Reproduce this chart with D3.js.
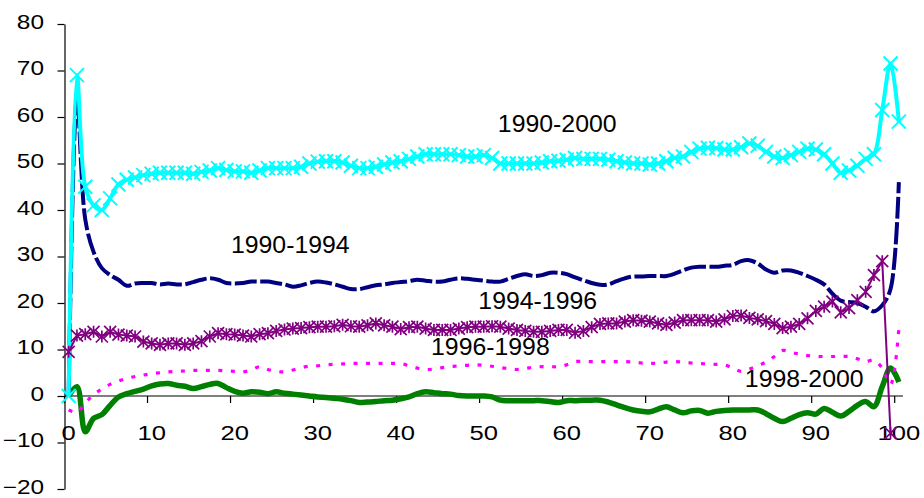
<!DOCTYPE html>
<html><head><meta charset="utf-8">
<script src="https://cdn.jsdelivr.net/npm/d3@7"></script>
<style>
body{margin:0;background:#fff}
svg{display:block}
text{font-family:"Liberation Sans",Arial,sans-serif;fill:#000}
</style>
</head><body>
<svg id="chart" width="924" height="498"></svg>
<script>
// ---------------- data ----------------
const categories = d3.range(0, 101);
const xTickLabels = ["0","10","20","30","40","50","60","70","80","90","100"];
const yTickValues = [-20,-10,0,10,20,30,40,50,60,70,80];
const seriesNames = ["1990-2000","1990-1994","1994-1996","1996-1998","1998-2000"];

const s1990_2000 = [
 0,69,45,41,40,42.5,45.5,46.5,47,47.5,
 47.8,48,48,48,48,47.8,48.2,48.5,49,48.6,
 48.3,48.3,48,48.5,49,49,49,49,49.3,50,
 50.4,50.5,50.5,50.2,49.5,49,49,49.3,49.8,50.2,
 50.5,51,51.5,52,52,52,52,51.8,51.5,51.5,
 51.8,51.2,50,50,50,50,50,50.2,50.5,50.6,
 50.8,51.2,51,51,51,50.8,50.5,50.2,50,50,
 49.8,50,50.5,51.2,51.5,52.5,53.2,53.4,53.3,53,
 53,53.5,54.3,53.8,52.5,51.5,51.2,51.8,52.5,53.2,
 53,52,50,48,48.5,49.5,51,52,61.5,71.5,59];
const s1990_1994 = [
 0,64,38,31,27.5,26,25,23.7,24.2,24.3,
 24.3,24,24.2,24,24,24.5,25,25.3,25,24.3,
 24.2,24.3,24.6,24.6,24.6,24.3,24,23.5,23.8,24.3,
 24.6,24.4,24,23.5,23,23,23.4,23.8,24,24.3,
 24.5,24.7,25,24.8,24.6,24.6,25,25.3,25.2,25,
 24.8,24.6,24.6,25.2,25.8,26.2,25.8,26,26.5,26.5,
 26.2,25.5,24.9,24.3,23.9,24,24.7,25.3,25.7,25.7,
 25.8,25.8,25.8,26.3,27,27.6,27.8,27.8,27.8,28,
 28.2,29,29.2,28.5,27.2,26.5,27,27,26.5,25.8,
 25,24,22,20.5,20.2,20,19.2,18.2,19.5,23,46];
const s1994_1996 = [
 9.5,13,13.3,13.8,12.8,13.8,13.2,13,12.8,11.7,
 11.3,11,11.3,11.3,11,11.3,11.8,12.8,13.5,13.3,
 13.2,13,12.8,13.3,13.5,14,14.3,14.5,14.6,14.8,
 14.9,14.9,15,15.3,15,14.9,15.2,15.6,15.2,14.9,
 14.4,14.8,14.9,14.5,14.2,14.2,14.2,14.5,14.8,14.9,
 14.9,15,14.9,14.5,14.2,14,13.8,13.8,14,14.2,
 14.2,13.6,14,14.8,15.5,15.6,15.6,16,16.3,16.2,
 16,15.6,15.3,15.8,16.3,16.3,16.3,16.3,16,16.5,
 17.2,17.3,16.8,16.5,16.1,15.5,14.6,14.9,15.5,16.7,
 18.3,19.2,20.3,18,18.9,20.6,22.4,26,29,-8,null];
const s1996_1998 = [
 -3,-3.5,-1.5,0.3,1.5,2.5,3.2,3.8,4.2,4.5,
 4.8,5,5.2,5.3,5.4,5.5,5.5,5.5,5.5,5.4,
 5.3,5.2,5.6,6.3,5.7,5.3,5.2,5.6,6.1,6.4,
 6.5,6.7,6.8,6.9,7,7,7,7,7,7,
 7,6.5,6,5.7,5.8,6.1,6.3,6.5,6.6,6.7,
 6.6,6.4,6.1,5.9,5.7,5.9,6.2,6.3,6.3,6.3,
 6.7,7.4,7.4,7.4,7.4,7.4,7.4,7.4,7.3,7.1,
 7,7.1,7.3,7.4,7.3,7.1,7,6.9,6.8,6.7,
 6,5.3,5.8,6.5,7.3,8.5,9.8,9.4,9,8.7,
 8.5,8.5,8.5,8.5,8.5,8,7.4,7.7,6,2.5,14.5];
const s1998_2000 = [
 0,2,-7.7,-4.8,-4,-2,-0.2,0.5,1,1.5,
 2.2,2.6,2.7,2.3,2.1,1.6,2,2.5,2.7,1.8,
 1,0.6,0.9,0.8,0.5,0.9,0.6,0.4,0.2,0,
 -0.2,-0.3,-0.5,-0.7,-1,-1.4,-1.3,-1.2,-1,-0.9,
 -0.6,-0.2,0.5,0.9,0.7,0.5,0.4,0.1,0,0,
 0,-0.2,-0.9,-1,-1,-1,-1,-1,-1.2,-1.4,
 -1,-1,-0.9,-0.9,-0.9,-1.3,-1.9,-2.5,-3,-3.3,
 -3.4,-2.8,-2.3,-3,-3.6,-3.2,-3.1,-3.7,-3.3,-3.1,
 -3,-3,-3,-3,-3.8,-4.8,-5.5,-4.8,-4,-3.6,
 -3.9,-2.7,-3.5,-4.3,-3.3,-2,-1.2,-2.3,2,6,3];

// ---------------- layout ----------------
const svg = d3.select("#chart");
const x = d3.scaleLinear().domain([-0.5, 100.5]).range([64.5, 903]);
const y = d3.scaleLinear().domain([-20, 80]).range([489, 24]);

function stretch(sel, s){
  sel.each(function(){
    const t = d3.select(this);
    const tx = +t.attr("x") || 0;
    t.attr("transform", `translate(${tx*(1-s)},0) scale(${s},1)`);
  });
}

// y axis
const yAx = svg.append("g").attr("transform", `translate(${x(-0.5)},0)`)
  .call(d3.axisLeft(y).tickValues(yTickValues).tickSize(7).tickSizeOuter(0).tickPadding(13.5));
yAx.select(".domain").attr("stroke","#000").attr("stroke-width",1.2);
yAx.selectAll(".tick line").attr("stroke","#000").attr("stroke-width",1.2);
yAx.selectAll(".tick text").attr("font-size",20).attr("font-family",null).attr("fill","#000").attr("dy","0.22em");
stretch(yAx.selectAll(".tick text"), 1.22);

// x axis (line at value 0)
const xAx = svg.append("g").attr("transform", `translate(0,${y(0)})`);
xAx.append("line").attr("x1", x(-0.5)).attr("x2", x(100.5)).attr("stroke","#000").attr("stroke-width",1.2);
const tickCats = xTickLabels.map(d => +d);
xAx.selectAll("line.tk").data(tickCats).join("line").attr("class","tk")
  .attr("x1", d => x(d - 0.5)).attr("x2", d => x(d - 0.5))
  .attr("y1", 0).attr("y2", 7).attr("stroke","#000").attr("stroke-width",1.2);
const xl = xAx.selectAll("text.xl").data(xTickLabels).join("text").attr("class","xl")
  .attr("x", d => x(+d)).attr("y", 44.5)
  .attr("text-anchor","middle").attr("font-size",21).text(d => d);
stretch(xl, 1.22);

// ---------------- series ----------------
const pts = arr => categories.map((c,i) => ({c, v: arr[i]}));
const lineGen = curve => d3.line().defined(d => d.v !== null && d.v !== undefined)
  .x(d => x(d.c)).y(d => y(d.v)).curve(curve);

// green 1998-2000
svg.append("path").datum(pts(s1998_2000))
  .attr("d", lineGen(d3.curveCatmullRom)).attr("fill","none")
  .attr("stroke","#008000").attr("stroke-width",5.5).attr("stroke-linejoin","round");

// magenta 1996-1998 dotted
svg.append("path").datum(pts(s1996_1998))
  .attr("d", lineGen(d3.curveCatmullRom)).attr("fill","none")
  .attr("stroke","#FF00FF").attr("stroke-width",3.2).attr("stroke-dasharray","4,8.5");

// navy 1990-1994 long dash
svg.append("path").datum(pts(s1990_1994))
  .attr("d", lineGen(d3.curveCatmullRom)).attr("fill","none")
  .attr("stroke","#000080").attr("stroke-width",4).attr("stroke-dasharray","22,3.5");

// cyan 1990-2000 with X markers
svg.append("path").datum(pts(s1990_2000))
  .attr("d", lineGen(d3.curveCatmullRom)).attr("fill","none")
  .attr("stroke","#00FFFF").attr("stroke-width",4).attr("stroke-linejoin","round");
const mx = 7;
svg.append("g").selectAll("path").data(pts(s1990_2000)).join("path")
  .attr("d", d => `M${x(d.c)-mx},${y(d.v)-mx}L${x(d.c)+mx},${y(d.v)+mx}M${x(d.c)-mx},${y(d.v)+mx}L${x(d.c)+mx},${y(d.v)-mx}`)
  .attr("stroke","#00FFFF").attr("stroke-width",2).attr("fill","none");

// purple 1994-1996 with star markers
svg.append("path").datum(pts(s1994_1996))
  .attr("d", lineGen(d3.curveLinear)).attr("fill","none")
  .attr("stroke","#800080").attr("stroke-width",2);
const ms = 6;
svg.append("g").selectAll("path").data(pts(s1994_1996).filter(d => d.v !== null)).join("path")
  .attr("d", d => {
    const cx = x(d.c), cy = y(d.v);
    return `M${cx-ms},${cy-ms}L${cx+ms},${cy+ms}M${cx-ms},${cy+ms}L${cx+ms},${cy-ms}M${cx},${cy-ms}L${cx},${cy+ms}`;
  })
  .attr("stroke","#800080").attr("stroke-width",1.7).attr("fill","none");

// ---------------- annotations ----------------
const notes = [
  {t: seriesNames[0], c: 58.85, v: 58.6},
  {t: seriesNames[1], c: 26.7, v: 32.5},
  {t: seriesNames[2], c: 56.5, v: 20.5},
  {t: seriesNames[3], c: 50.8, v: 10.5},
  {t: seriesNames[4], c: 88.6, v: 3.8}
];
const nt = svg.append("g").selectAll("text").data(notes).join("text")
  .attr("x", d => x(d.c)).attr("y", d => y(d.v) + 8.3)
  .attr("text-anchor","middle").attr("font-size",23).text(d => d.t);
stretch(nt, 1.08);
</script>
</body></html>
